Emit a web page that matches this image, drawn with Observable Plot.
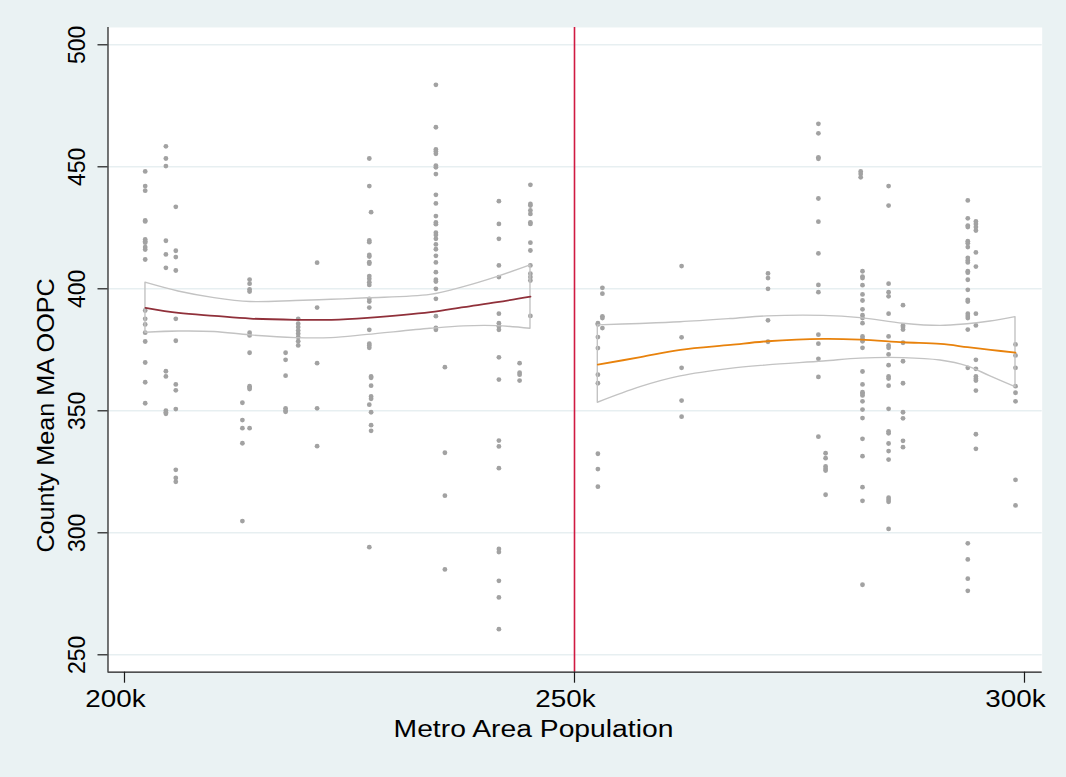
<!DOCTYPE html>
<html>
<head>
<meta charset="utf-8">
<script src="https://cdn.jsdelivr.net/npm/d3@7"></script>
<script src="https://cdn.jsdelivr.net/npm/@observablehq/plot@0.6"></script>
<style>
  html, body { margin: 0; padding: 0; background: #eaf2f3; }
  #chart svg { display: block; }
</style>
</head>
<body>
<div id="chart"></div>
<script>
// Metro area population (thousands) of each metro, and the mean MA OOPC of its counties
const metroPop = [
  202.3, 204.6, 205.7, 213.1, 213.9, 217.9, 219.3, 221.4, 227.2, 227.4,
  234.6, 235.6, 241.6, 243.9, 245.1,
  252.6, 253.1, 261.9, 271.5, 277.1, 277.9, 281.8, 282.0, 284.9, 286.5,
  293.7, 294.6, 299.0
];
const countyOOPC = [
  [448.1, 442.1, 440.2, 428.0, 427.6, 420.2, 419.5, 418.9, 417.1, 416.1, 412.0, 391.1, 387.7, 385.4, 382.0, 378.4, 369.8, 361.7, 353.1],
  [458.4, 453.4, 450.3, 419.7, 414.1, 408.6, 366.2, 364.1, 350.1, 349.4, 348.8],
  [433.6, 415.6, 413.0, 407.5, 387.7, 378.7, 360.8, 358.4, 350.7, 325.8, 322.5, 320.9],
  [353.3, 346.2, 342.9, 336.7, 304.8],
  [403.8, 402.1, 399.8, 398.9, 382.0, 380.9, 373.8, 360.1, 359.4, 358.9, 342.9],
  [373.8, 370.9, 364.4, 351.0, 350.1, 349.6],
  [387.7, 385.7, 384.3, 382.9, 381.6, 380.2, 378.5, 376.8],
  [410.7, 392.3, 369.5, 351.0, 335.5],
  [453.4, 442.1, 419.8, 419.1, 413.9, 413.2, 410.9, 410.3, 405.2, 404.1, 402.7, 401.6, 395.9, 394.8, 392.3, 383.2, 377.5, 376.8, 375.8, 352.5, 294.1],
  [431.4, 364.1, 363.5, 360.3, 355.9, 354.9, 349.4, 344.1, 341.8],
  [483.6, 466.2, 457.1, 456.3, 455.3, 450.5, 449.8, 447.0, 438.5, 435.0, 429.8, 427.2, 426.5, 423.0, 422.1, 420.5, 418.2, 416.2, 413.5, 410.8, 406.8, 403.7, 403.0, 400.0, 395.9, 388.8, 384.0, 383.2],
  [367.9, 332.8, 315.2, 285.0],
  [435.9, 426.6, 420.5, 409.6, 404.8, 389.8, 385.9, 384.6, 383.2, 371.9, 362.8, 337.8, 335.4, 326.5, 293.4, 292.1, 280.3, 273.5, 260.5],
  [369.5, 365.6, 364.8, 362.4],
  [442.6, 434.8, 434.1, 432.1, 430.7, 427.2, 426.6, 418.9, 415.7, 409.6, 406.2, 404.8, 403.4, 388.9],
  [385.9, 385.4, 380.2, 375.7, 364.8, 361.3, 332.4, 326.1, 318.9],
  [400.4, 398.0, 388.7, 388.0, 383.9],
  [409.3, 380.1, 367.6, 354.2, 347.6],
  [406.3, 404.4, 400.0, 387.1, 378.3],
  [467.6, 463.7, 453.9, 453.3, 437.0, 427.5, 414.5, 401.6, 398.6, 381.2, 377.5, 371.3, 363.9, 339.4],
  [332.6, 330.6, 327.2, 326.2, 325.5, 315.6],
  [448.1, 447.1, 445.7],
  [407.2, 405.0, 404.4, 401.5, 397.7, 395.2, 391.6, 389.2, 388.0, 385.9, 380.5, 379.5, 378.5, 375.8, 366.1, 360.8, 357.6, 357.0, 356.3, 353.9, 350.5, 347.0, 338.5, 331.4, 318.7, 313.1, 278.7],
  [442.1, 434.1, 402.1, 398.6, 396.9, 389.8, 380.5, 376.8, 375.8, 373.1, 368.7, 364.1, 363.2, 360.3, 350.8, 341.6, 340.8, 336.6, 333.5, 330.0, 314.4, 313.5, 312.7, 301.6],
  [393.3, 385.0, 384.3, 383.3, 377.9, 370.3, 361.3, 349.4, 346.9, 337.7, 335.1],
  [436.2, 428.9, 425.9, 425.3, 419.5, 418.7, 417.1, 412.7, 411.6, 410.8, 407.2, 406.6, 403.7, 399.6, 395.5, 394.8, 389.8, 388.9, 388.0, 383.3, 367.6, 295.7, 289.1, 281.2, 276.2],
  [427.6, 426.6, 425.3, 423.9, 414.9, 409.1, 389.8, 385.0, 370.9, 367.2, 364.1, 363.1, 362.4, 358.3, 340.4, 334.4],
  [377.2, 372.7, 367.6, 360.1, 357.4, 353.9, 321.7, 311.2]
];

// Local fit with confidence band, below the 250k cutoff
const leftFitPop = [202.33, 206, 210, 214, 219, 223, 227, 234, 237.7, 241.4, 245.11];
const leftFit    = [392.2, 390.1, 388.9, 387.8, 387.3, 387.3, 388.1, 390.4, 392.5, 394.5, 396.8];
const leftUpper  = [402.5, 398.9, 396.2, 394.6, 395.0, 395.5, 396.1, 397.5, 400.7, 404.8, 409.6];
const leftLower  = [382.0, 382.5, 382.3, 380.9, 379.8, 379.8, 381.1, 383.6, 384.6, 384.7, 383.6];

// Local fit with confidence band, above the cutoff
const rightFitPop = [252.59, 257.33, 261.78, 267.33, 271.44, 277.67, 281.78, 286.56, 290.67, 293.67, 296.22, 299.0];
const rightFit    = [368.9, 372.0, 375.0, 377.0, 378.5, 379.5, 379.2, 378.1, 377.4, 376.1, 375.0, 373.8];
const rightUpper  = [385.0, 385.6, 386.3, 387.6, 388.7, 388.9, 388.0, 385.7, 384.8, 385.5, 386.6, 388.4];
const rightLower  = [353.3, 359.7, 364.1, 367.2, 368.6, 370.2, 371.4, 371.6, 370.6, 368.2, 364.1, 359.7];

const cutoff = 250;
const xTicks = [200, 250, 300];
const yTicks = [250, 300, 350, 400, 450, 500];
const xTitle = "Metro Area Population";
const yTitle = "County Mean MA OOPC";

const xDomain = [198.167, 301.967];
const yDomain = [242.87, 507.09];

const points = metroPop.flatMap((p, i) => countyOOPC[i].map(v => ({pop: p, oopc: v})));
const band = (xs, fit, lo, hi) => xs.map((p, i) => ({pop: p, fit: fit[i], lo: lo[i], hi: hi[i]}));
const leftBand = band(leftFitPop, leftFit, leftLower, leftUpper);
const rightBand = band(rightFitPop, rightFit, rightLower, rightUpper);

const font = "'Liberation Sans', Arial, sans-serif";
const ciStroke = "#c3c3c3";

const chart = Plot.plot({
  width: 1066,
  height: 777,
  marginLeft: 107.5,
  marginRight: 24.3,
  marginTop: 27,
  marginBottom: 105.3,
  style: {background: "#eaf2f3", fontFamily: font, color: "#000"},
  x: {domain: xDomain, axis: null},
  y: {domain: yDomain, axis: null},
  marks: [
    Plot.frame({fill: "white", stroke: null}),
    Plot.gridY(yTicks, {stroke: "#e7eff1", strokeOpacity: 1, strokeWidth: 1.6}),
    Plot.ruleX([cutoff], {stroke: "#d01a42", strokeWidth: 1.6}),
    Plot.dot(points, {x: "pop", y: "oopc", r: 2.4, fill: "#a2a2a2", stroke: null}),
    Plot.areaY(leftBand, {x: "pop", y1: "lo", y2: "hi", fill: "none", stroke: ciStroke, strokeWidth: 1.4, curve: "catmull-rom"}),
    Plot.areaY(rightBand, {x: "pop", y1: "lo", y2: "hi", fill: "none", stroke: ciStroke, strokeWidth: 1.4, curve: "catmull-rom"}),
    Plot.line(leftBand, {x: "pop", y: "fit", stroke: "#90303a", strokeWidth: 1.8, curve: "catmull-rom"}),
    Plot.line(rightBand, {x: "pop", y: "fit", stroke: "#e8820c", strokeWidth: 1.8, curve: "catmull-rom"}),
    // axis lines
    Plot.ruleX([xDomain[0]], {stroke: "#1a1a1a", strokeWidth: 1.2}),
    Plot.ruleY([yDomain[0]], {stroke: "#1a1a1a", strokeWidth: 1.2}),
    // tick marks
    Plot.axisY({ticks: yTicks, tickSize: 10, fill: "none", stroke: "#1a1a1a", strokeWidth: 1.2, label: null}),
    Plot.axisX({ticks: xTicks, tickSize: 11, fill: "none", stroke: "#1a1a1a", strokeWidth: 1.2, label: null}),
    // tick labels
    Plot.axisY({ticks: yTicks, tickSize: 10, tickPadding: 13.5, tickRotate: -90, stroke: "none", fill: "#000", fontSize: 23, label: null}),
    Plot.axisX({ticks: xTicks, tickSize: 11, tickPadding: 7, stroke: "none", fill: "#000", fontSize: 23, dx: -9, tickFormat: d => d + "k", label: null}),
    // axis titles
    Plot.text([xTitle], {frameAnchor: "bottom", textAnchor: "middle", dx: -41.6, dy: 65, lineAnchor: "bottom", fontSize: 23, fill: "#000"}),
    Plot.text([yTitle], {frameAnchor: "left", textAnchor: "middle", rotate: -90, dx: -54, dy: 65.6, lineAnchor: "bottom", fontSize: 23, fill: "#000"})
  ]
});

document.getElementById("chart").appendChild(chart);

// Stata-style wide lettering: stretch the axis titles and the horizontal tick labels
function stretch(nodes, factor) {
  nodes.each(function() {
    const len = this.getComputedTextLength();
    this.setAttribute("textLength", (len * factor).toFixed(1));
    this.setAttribute("lengthAdjust", "spacingAndGlyphs");
  });
}
const svg = d3.select(chart);
const titled = t => svg.selectAll('g[aria-label="text"] text').filter(function() { return this.textContent === t; });
stretch(svg.selectAll('g[aria-label="x-axis tick label"] text'), 1.21);
stretch(titled(xTitle), 1.23);
stretch(titled(yTitle), 1.095);
</script>
</body>
</html>
